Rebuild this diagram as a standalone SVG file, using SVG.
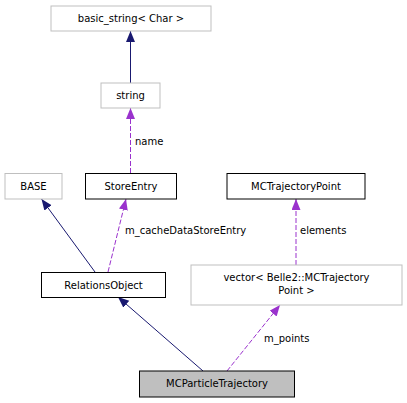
<svg xmlns="http://www.w3.org/2000/svg" width="407" height="403" viewBox="0 0 407 403">
<style>
text{font-family:"DejaVu Sans","Liberation Sans",sans-serif;font-size:10px;fill:#000}
.c{text-anchor:middle}
.ext rect{fill:#fff;stroke:#bfbfbf;stroke-width:1}
.doc rect{fill:#fff;stroke:#000;stroke-width:1}
.cur rect{fill:#bfbfbf;stroke:#000;stroke-width:1}
.inh{stroke:#191970;stroke-width:1;fill:none;marker-end:url(#an)}
.use{stroke:#9a32cd;stroke-width:1;fill:none;stroke-dasharray:5,2;marker-end:url(#ap)}
</style>
<defs>
<marker id="an" markerUnits="userSpaceOnUse" markerWidth="12" markerHeight="10" refX="11" refY="4.5" orient="auto"><path d="M0,0 L11,4.5 L0,9 z" fill="#191970"/></marker>
<marker id="ap" markerUnits="userSpaceOnUse" markerWidth="12" markerHeight="10" refX="11" refY="4.5" orient="auto"><path d="M0,0 L11,4.5 L0,9 z" fill="#9a32cd"/></marker>
</defs>
<rect width="407" height="403" fill="#fff"/>
<g id="connectors">
<path class="inh" d="M130.5,83 L130.5,31"/>
<path class="use" d="M130.5,173 L130.5,108"/>
<path class="inh" d="M95,272 L41.5,199"/>
<path class="use" d="M108,272 L126,199"/>
<path class="use" d="M296,265 L296,199"/>
<path class="inh" d="M203,371 L118,297"/>
<path class="use" d="M227,371 L280,305"/>
<text x="135" y="145">name</text>
<text x="125" y="234">m_cacheDataStoreEntry</text>
<text x="300" y="234">elements</text>
<text x="264" y="342">m_points</text>
</g>
<g id="basic_string" class="ext"><rect x="51" y="6" width="160" height="25"/><text class="c" x="131" y="22">basic_string&lt; Char &gt;</text></g>
<g id="string" class="ext"><rect x="101" y="83" width="59" height="25"/><text class="c" x="130.5" y="99">string</text></g>
<g id="BASE" class="ext"><rect x="5" y="173.5" width="57" height="25.5"/><text class="c" x="33.5" y="190">BASE</text></g>
<g id="StoreEntry" class="doc"><rect x="85.5" y="173.5" width="91" height="25.5"/><text class="c" x="131" y="190">StoreEntry</text></g>
<g id="MCTrajectoryPoint" class="doc"><rect x="227" y="173.5" width="138" height="25.5"/><text class="c" x="296" y="190">MCTrajectoryPoint</text></g>
<g id="RelationsObject" class="doc"><rect x="41.5" y="272.5" width="124" height="25"/><text class="c" x="103.5" y="289">RelationsObject</text></g>
<g id="vector" class="ext"><rect x="191" y="265" width="211" height="40"/><text class="c" x="296.5" y="281">vector&lt; Belle2::MCTrajectory</text><text class="c" x="296.5" y="294">Point &gt;</text></g>
<g id="MCParticleTrajectory" class="cur"><rect x="139.5" y="371" width="155" height="26"/><text class="c" x="217" y="387">MCParticleTrajectory</text></g>
</svg>
